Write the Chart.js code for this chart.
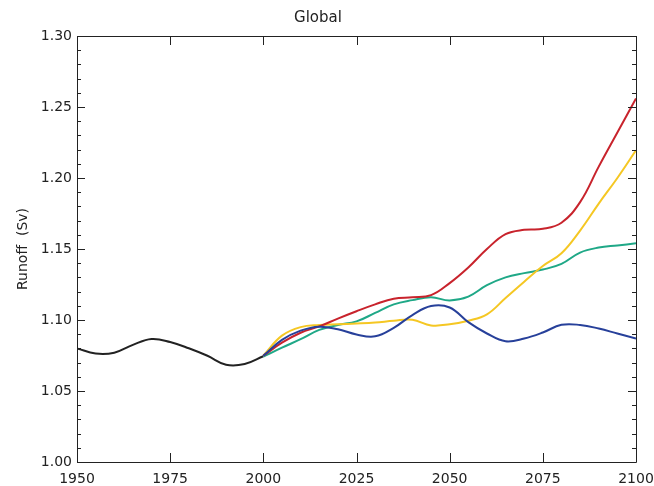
<!DOCTYPE html>
<html>
<head>
<meta charset="utf-8">
<script src="https://cdn.jsdelivr.net/npm/chart.js@4.4.1/dist/chart.umd.min.js"></script>
<style>
  html, body { margin: 0; padding: 0; background: #ffffff; }
  #wrap { width: 654px; height: 486px; }
</style>
</head>
<body>
<div id="wrap"><canvas id="chart" width="654" height="486"></canvas></div>
<script>
// Historical runoff, 1950-2000
const histYears = [1950, 1955, 1960, 1965, 1970, 1975, 1980, 1985, 1990, 1995, 2000];
const histValues = [1.0800, 1.0764, 1.0770, 1.0825, 1.0866, 1.0845, 1.0801, 1.0748, 1.0685, 1.0690, 1.0745];

// Scenario projections, 2000-2100
const scenYears = [2000, 2005, 2010, 2015, 2020, 2025, 2030, 2035, 2040, 2045, 2050,
                   2055, 2060, 2065, 2070, 2075, 2080, 2085, 2090, 2095, 2100];
const redValues = [1.0748, 1.0840, 1.0910, 1.0955, 1.1010, 1.1062, 1.1110, 1.1150, 1.1160, 1.1175, 1.1260,
                   1.1370, 1.1500, 1.1605, 1.1635, 1.1642, 1.1685, 1.1830, 1.2080, 1.2320, 1.2560];
const yellowValues = [1.0750, 1.0890, 1.0950, 1.0965, 1.0970, 1.0975, 1.0982, 1.0995, 1.1002, 1.0962, 1.0970,
                      1.0995, 1.1040, 1.1155, 1.1270, 1.1380, 1.1470, 1.1630, 1.1820, 1.2000, 1.2195];
const greenValues = [1.0742, 1.0805, 1.0865, 1.0930, 1.0965, 1.0990, 1.1050, 1.1110, 1.1140, 1.1160, 1.1138,
                     1.1165, 1.1245, 1.1300, 1.1330, 1.1355, 1.1395, 1.1475, 1.1510, 1.1525, 1.1540];
const blueValues = [1.0748, 1.0860, 1.0925, 1.0953, 1.0935, 1.0898, 1.0885, 1.0945, 1.1035, 1.1098, 1.1088,
                    1.0985, 1.0905, 1.0850, 1.0870, 1.0912, 1.0966, 1.0965, 1.0940, 1.0905, 1.0870];

const xTicks = [1950, 1975, 2000, 2025, 2050, 2075, 2100];
const yMin = 1.00, yMax = 1.30, yMajor = 0.05, yMinor = 0.01;

const FONT = "'DejaVu Sans', sans-serif";

function pairs(xs, ys) { return xs.map((x, i) => ({ x: x, y: ys[i] })); }

function line(label, xs, ys, color) {
  return {
    label: label,
    data: pairs(xs, ys),
    borderColor: color,
    borderWidth: 2,
    pointRadius: 0,
    fill: false,
    tension: 0.4
  };
}

// Box frame with inward ticks on all four sides
const framePlugin = {
  id: 'frame',
  afterDatasetsDraw(chart) {
    const { ctx, chartArea: a, scales } = chart;
    const xs = scales.x, ys = scales.y;
    ctx.save();
    ctx.strokeStyle = '#222222';
    ctx.lineWidth = 1;
    ctx.beginPath();
    ctx.rect(Math.round(a.left) + 0.5, Math.round(a.top) + 0.5,
             Math.round(a.right - a.left), Math.round(a.bottom - a.top));
    ctx.stroke();
    ctx.beginPath();
    xTicks.forEach(t => {
      const px = Math.round(xs.getPixelForValue(t)) + 0.5;
      ctx.moveTo(px, a.bottom); ctx.lineTo(px, a.bottom - 9);
      ctx.moveTo(px, a.top); ctx.lineTo(px, a.top + 9);
    });
    const n = Math.round((yMax - yMin) / yMinor);
    for (let i = 0; i <= n; i++) {
      const v = yMin + i * yMinor;
      const major = (i % Math.round(yMajor / yMinor)) === 0;
      const len = major ? 8 : 4;
      const py = Math.round(ys.getPixelForValue(v)) + 0.5;
      ctx.moveTo(a.left, py); ctx.lineTo(a.left + len, py);
      ctx.moveTo(a.right, py); ctx.lineTo(a.right - len, py);
    }
    ctx.stroke();
    ctx.restore();
  }
};

new Chart(document.getElementById('chart'), {
  type: 'line',
  data: {
    datasets: [
      line('Historical', histYears, histValues, '#222222'),
      line('Green', scenYears, greenValues, '#1fa887'),
      line('Yellow', scenYears, yellowValues, '#f5c723'),
      line('Red', scenYears, redValues, '#c8232c'),
      line('Blue', scenYears, blueValues, '#27409a')
    ].reverse()
  },
  options: {
    responsive: false,
    animation: false,
    devicePixelRatio: 1,
    layout: { padding: { left: 0, right: 18, top: 0, bottom: 0 } },
    plugins: {
      legend: { display: false },
      tooltip: { enabled: false },
      title: {
        display: true,
        text: 'Global',
        color: '#222222',
        font: { family: FONT, size: 15, weight: 'normal' },
        padding: { top: 9, bottom: 9 }
      }
    },
    scales: {
      x: {
        type: 'linear',
        min: 1950,
        max: 2100,
        grid: { display: false, drawTicks: false },
        border: { display: false },
        afterBuildTicks(scale) { scale.ticks = xTicks.map(v => ({ value: v })); },
        afterFit(scale) {
          scale.height = 24;
          scale.paddingLeft = 0;
          scale.paddingRight = 0;
        },
        ticks: {
          autoSkip: false,
          maxRotation: 0,
          padding: 9,
          color: '#222222',
          font: { family: FONT, size: 14 },
          callback: v => String(v)
        }
      },
      y: {
        type: 'linear',
        min: yMin,
        max: yMax,
        grid: { display: false, drawTicks: false },
        border: { display: false },
        afterFit(scale) {
          scale.width = 77;
          scale.paddingTop = 0;
          scale.paddingBottom = 0;
        },
        ticks: {
          stepSize: yMajor,
          padding: 5,
          color: '#222222',
          font: { family: FONT, size: 14 },
          callback: v => Number(v).toFixed(2)
        },
        title: {
          display: true,
          text: 'Runoff  (Sv)',
          color: '#222222',
          font: { family: FONT, size: 14 },
          padding: { top: 15, bottom: 0 }
        }
      }
    }
  },
  plugins: [framePlugin]
});
</script>
</body>
</html>
